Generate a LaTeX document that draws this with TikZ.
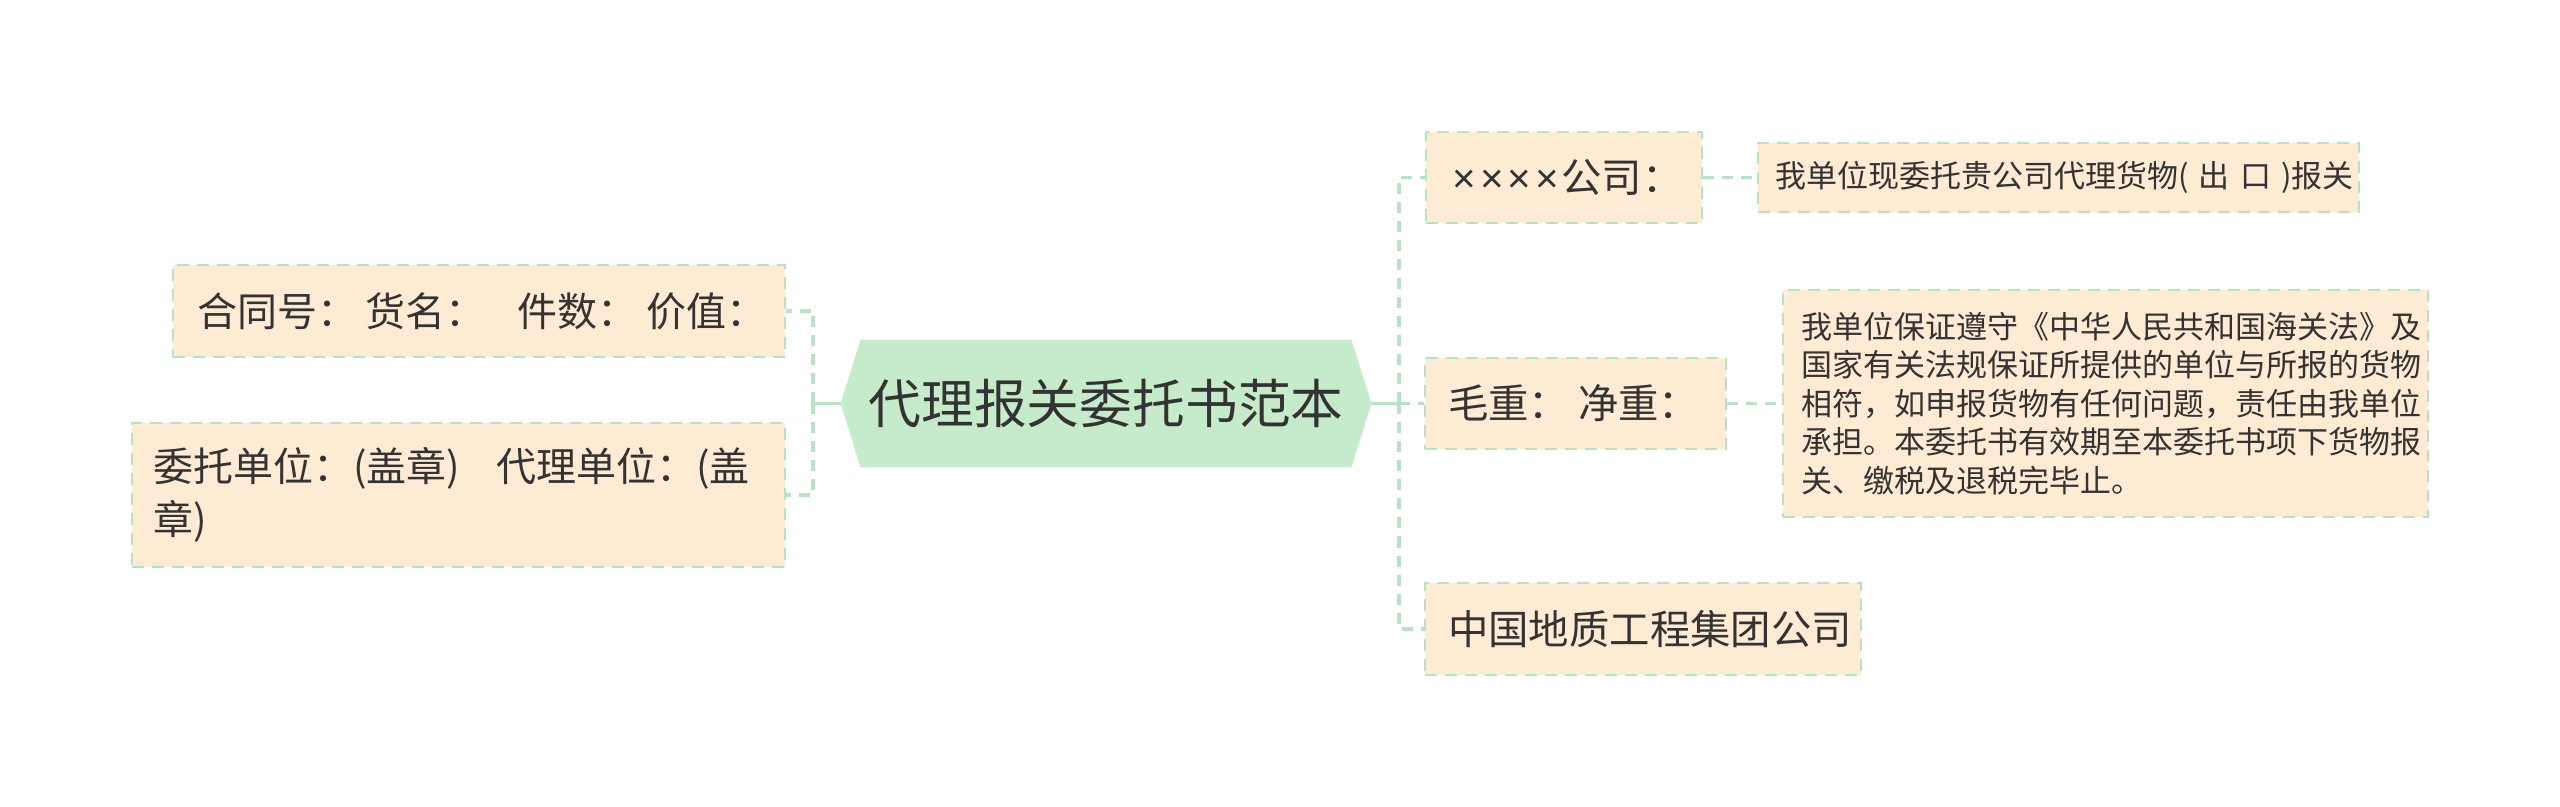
\documentclass[tikz,border=0pt]{standalone}
\usepackage{fontspec}
\newfontfamily\cjk{Noto Sans CJK SC}
\newfontfamily\lat{Liberation Sans}
\usetikzlibrary{backgrounds}
\definecolor{peach}{HTML}{FDEBD4}
\definecolor{lgreen}{HTML}{B5E3C4}
\definecolor{rootfill}{HTML}{C5EBCB}
\definecolor{ink}{HTML}{333333}
\newcommand{\mx}{\makebox[0.69em]{\lat ×}}
\begin{document}
\begin{tikzpicture}[x=0.5pt,y=-0.5pt,
  box/.style={draw=lgreen, line width=1pt, dash pattern=on 6pt off 4pt, fill=peach, text=ink, align=left, inner sep=0pt},
  lfont/.style={font=\cjk\fontsize{20}{26.5}\selectfont},
  rfont/.style={font=\cjk\fontsize{20.2}{27}\selectfont},
  sfont/.style={font=\cjk\fontsize{15.5}{19.25}\selectfont},
  conn/.style={draw=lgreen, line width=1.8pt, dash pattern=on 5.5pt off 4pt},
  stub/.style={draw=lgreen, line width=1.8pt}]
\useasboundingbox (0,0) rectangle (2560,807);

% root
\node[font=\cjk\fontsize{26.4}{32}\selectfont, text=ink, minimum width=265pt, minimum height=63.5pt, inner sep=0pt] (root) at (1106,403.5) {代理报关委托书范本};
\begin{scope}[on background layer]
\fill[rootfill] (root.west) -- ([xshift=10pt]root.north west) -- ([xshift=-10pt]root.north east) -- (root.east) -- ([xshift=-10pt]root.south east) -- ([xshift=10pt]root.south west) -- cycle;
\end{scope}

% left children
\node[box, lfont, minimum width=306pt, minimum height=46pt, text width=282pt] (L1) at (479,311)
  {\mbox{合同号：\hspace{0.22em}货名：\hspace{0.8em}件数：\hspace{0.22em}价值：}};
\node[box, lfont, minimum width=326.5pt, minimum height=72pt, text width=305.5pt] (L2) at (458.5,495)
  {\mbox{委托单位：(盖章)\hspace{0.9em}代理单位：(盖}\\章)};

% right children
\node[box, rfont, minimum width=138pt, minimum height=45.5pt, text width=114pt] (R1) at (1564,177.5)
  {\mbox{\mx\mx\mx\mx 公司：}};
\node[box, sfont, minimum width=300.5pt, minimum height=34.5pt, text width=283.5pt] (R1a) at (2058.5,177.5)
  {\mbox{我单位现委托贵公司代理货物( 出 口 )报关}};
\node[box, rfont, minimum width=150.5pt, minimum height=45.5pt, text width=127.5pt] (R2) at (1575.5,403.5)
  {\mbox{毛重：\hspace{0.22em}净重：}};
\node[box, sfont, minimum width=322.5pt, minimum height=113.5pt, text width=304.5pt] (R2a) at (2105.5,403.5)
  {我单位保证遵守《中华人民共和国海关法》及\\国家有关法规保证所提供的单位与所报的货物\\相符，如申报货物有任何问题，责任由我单位\\承担。本委托书有效期至本委托书项下货物报\\关、缴税及退税完毕止。};
\node[box, rfont, minimum width=218pt, minimum height=46pt, text width=195pt] (R3) at (1643,629)
  {中国地质工程集团公司};

% connectors
\coordinate (lj) at (813,403.5);
\coordinate (rj) at (1399,403.5);
\draw[stub] (root.west) -- (lj);
\draw[conn] (lj) |- (L1.east);
\draw[conn] (lj) |- (L2.east);
\draw[stub] (root.east) -- (rj);
\draw[conn] (rj) |- (R1.west);
\draw[conn] (rj) -- (R2.west);
\draw[conn] (rj) |- (R3.west);
\draw[conn] (R1.east) -- (R1a.west);
\draw[conn] (R2.east) -- (R2a.west);
\end{tikzpicture}
\end{document}
